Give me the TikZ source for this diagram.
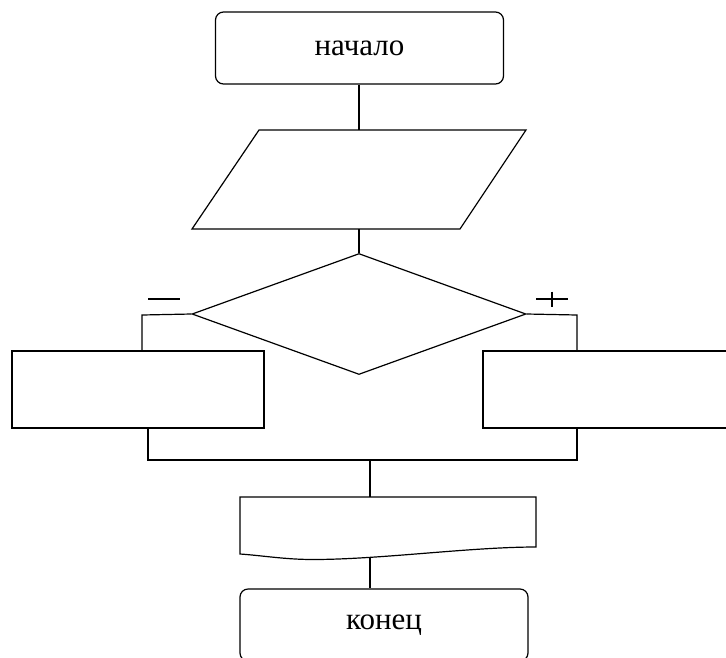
\documentclass[tikz,border=0pt]{standalone}
\usepackage{fontspec}
\setmainfont{Liberation Serif}
\usetikzlibrary{shapes.geometric}
\begin{document}
\begin{tikzpicture}[x=1pt,y=-1pt,line width=1.2pt,
  term/.style={draw,rounded corners=8pt,minimum width=288pt,minimum height=72pt,inner sep=0pt,font=\fontsize{31}{36}\selectfont},
  procbox/.style={draw,minimum height=77pt,inner sep=0pt},
  decision/.style={draw,diamond,minimum width=334pt,minimum height=121pt,inner sep=0pt},
  sign/.style={line width=1.2pt}]
\clip (0,0) rectangle (726,657);
\node[term] (start) at (359.5,48) {начало};
% input/output parallelogram
\coordinate (iotop) at (359,130);
\coordinate (iobot) at (359,229);
\draw (259,130) -- (526,130) -- (460,229) -- (192,229) -- cycle;
\node[decision] (dec) at (359,314) {};
\node[procbox,minimum width=252pt] (lbox) at (138,389.5) {};
\node[procbox,minimum width=277pt] (rbox) at (621.5,389.5) {};
% document shape
\coordinate (doctop) at (370,497);
\coordinate (docbot) at (370,557.6);
\draw (240,497) -- (536,497) -- (536,547)
  .. controls (470,547) and (380,559.5) .. (313,559.5)
  .. controls (285,559.5) and (262,555.5) .. (240,554) -- cycle;
\node[term,minimum width=288pt] (end) at (384,625) {конец};
% connectors
\draw (start.south -| iotop) -- (iotop);
\draw (iobot) -- (dec.north);
\coordinate (lj) at (142,315);
\coordinate (rj) at (577,315);
\draw (dec.west) -- (lj) -- (lj |- lbox.north);
\draw (dec.east) -- (rj) -- (rj |- rbox.north);
\coordinate (lb) at (148,460);
\coordinate (rb) at (577,460);
\coordinate (mj) at (370,460);
\draw (lb |- lbox.south) -- (lb) -- (rb) -- (rb |- rbox.south);
\draw (mj) -- (doctop);
\draw (docbot) -- (docbot |- end.north);
% signs
\draw[sign] (148,299) -- (180,299);
\draw[sign] (536,299) -- (568,299) (552,291.5) -- (552,307);
\end{tikzpicture}
\end{document}
